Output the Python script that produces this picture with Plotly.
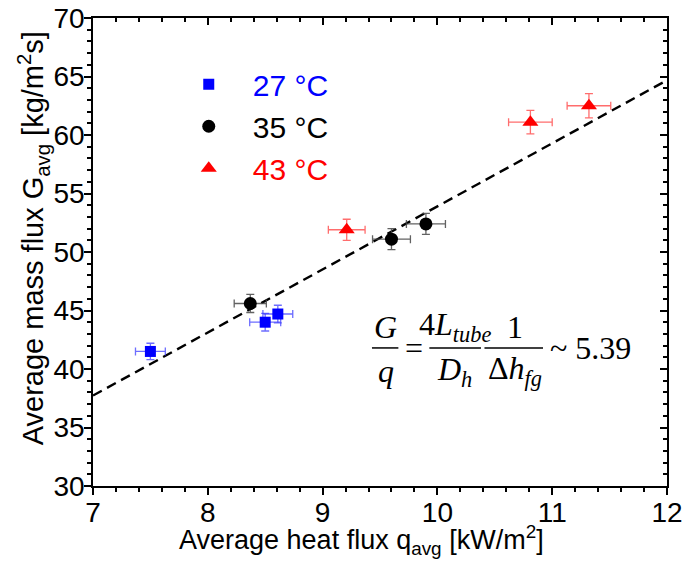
import plotly.graph_objects as go

# Measured averages for three saturation temperatures
q_27 = [7.50, 8.50, 8.61]
G_27 = [41.5, 44.0, 44.7]
q_err_27 = [0.13, 0.135, 0.13]
G_err_27 = [0.70, 0.75, 0.75]

q_35 = [8.37, 9.60, 9.90]
G_35 = [45.6, 51.1, 52.4]
q_err_35 = [0.14, 0.165, 0.17]
G_err_35 = [0.77, 0.90, 0.90]

q_43 = [9.21, 10.81, 11.32]
G_43 = [51.9, 61.1, 62.5]
q_err_43 = [0.16, 0.19, 0.19]
G_err_43 = [0.90, 1.00, 1.03]

# Ratio G/q from the correlation
slope = 5.39
q_line = [7.0, 12.0]
G_line = [slope * q for q in q_line]

X_RANGE = [7, 12]
Y_RANGE = [30, 70]

SANS = "Liberation Sans, Arial, sans-serif"
SERIF = "Liberation Serif, Times New Roman, serif"

fig = go.Figure()

fig.add_trace(go.Scatter(
    x=q_line, y=G_line, mode="lines",
    line=dict(color="black", width=2.4, dash="10px,6px"),
    showlegend=False, hoverinfo="skip",
))

series = [
    (q_27, G_27, q_err_27, G_err_27, "blue", "rgba(60,60,255,0.75)", "square", 11, "27 °C"),
    (q_35, G_35, q_err_35, G_err_35, "black", "rgba(70,70,70,0.85)", "circle", 13, "35 °C"),
    (q_43, G_43, q_err_43, G_err_43, "red", "rgba(255,60,60,0.75)", "triangle-up", 14, "43 °C"),
]
for qx, gy, qe, ge, col, ecol, sym, size, name in series:
    fig.add_trace(go.Scatter(
        x=qx, y=gy, mode="markers",
        marker=dict(symbol=sym, size=size, color=col, line=dict(width=0)),
        error_x=dict(type="data", array=qe, color=ecol, thickness=1.3, width=4),
        error_y=dict(type="data", array=ge, color=ecol, thickness=1.3, width=4),
        name=f"<span style='color:{col}'>{name}</span>",
    ))

# Empty trace that carries the top/right frame axes
fig.add_trace(go.Scatter(x=[], y=[], xaxis="x2", yaxis="y2", showlegend=False))

axis_common = dict(
    showgrid=False, zeroline=False, showline=True, automargin=False,
    linecolor="black", linewidth=1.5,
    tickcolor="black", tickwidth=1.5,
)
tick_font = dict(size=28, family=SANS, color="black")

fig.update_layout(
    width=684, height=564,
    margin=dict(l=93, r=17, t=18, b=78),
    paper_bgcolor="white", plot_bgcolor="white",
    font=dict(family=SANS, color="black"),
    xaxis=dict(
        range=X_RANGE, tick0=7, dtick=1, ticks="outside", ticklen=7,
        minor=dict(dtick=0.2, ticks="outside", ticklen=4, tickwidth=1.5, tickcolor="black"),
        tickfont=tick_font, ticklabelstandoff=-6,
        **axis_common,
    ),
    yaxis=dict(
        range=Y_RANGE, tick0=30, dtick=5, ticks="outside", ticklen=7,
        minor=dict(dtick=1, ticks="outside", ticklen=4, tickwidth=1.5, tickcolor="black"),
        tickfont=tick_font, ticklabelstandoff=-6,
        **axis_common,
    ),
    xaxis2=dict(
        range=X_RANGE, overlaying="x", side="top", anchor="y2",
        tick0=7, dtick=1, ticks="inside", ticklen=7, showticklabels=False,
        minor=dict(dtick=0.2, ticks="inside", ticklen=4, tickwidth=1.5, tickcolor="black"),
        **axis_common,
    ),
    yaxis2=dict(
        range=Y_RANGE, overlaying="y", side="right", anchor="x2",
        tick0=30, dtick=5, ticks="inside", ticklen=7, showticklabels=False,
        minor=dict(dtick=1, ticks="inside", ticklen=4, tickwidth=1.5, tickcolor="black"),
        **axis_common,
    ),
    legend=dict(
        x=0.125, y=0.914, xanchor="left", yanchor="top",
        bgcolor="rgba(0,0,0,0)", font=dict(size=30, family=SANS),
        itemwidth=78,
    ),
    showlegend=True,
)

# Axis titles
fig.add_annotation(
    x=(361 - 93) / 574, y=-0.115, xref="paper", yref="paper",
    text="Average heat flux q<sub>avg</sub> [kW/m<sup>2</sup>]",
    showarrow=False, xanchor="center", yanchor="middle",
    font=dict(size=27, family=SANS, color="black"),
)
fig.add_annotation(
    x=-0.104, y=(486 - 238) / 468, xref="paper", yref="paper",
    text="Average mass flux G<sub>avg</sub> [kg/m<sup>2</sup>s]",
    showarrow=False, textangle=-90, xanchor="center", yanchor="middle",
    font=dict(size=29, family=SANS, color="black"),
)

# Correlation written as stacked fractions
eq_font = dict(size=32, family=SERIF, color="black")


def txt(x, y, s, anchor="center"):
    fig.add_annotation(x=x, y=y, xref="x", yref="y", text=s, showarrow=False,
                       xanchor=anchor, yanchor="middle", font=eq_font)


def bar(x0, x1, y):
    fig.add_shape(type="line", xref="x", yref="y", x0=x0, x1=x1, y0=y, y1=y,
                  line=dict(color="black", width=1.5))


txt(9.55, 43.6, "<i>G</i>")
bar(9.43, 9.66, 41.8)
txt(9.55, 39.8, "<i>q</i>")
txt(9.80, 41.8, "=")
txt(10.15, 43.6, "4<i>L</i><sub><i>tube</i></sub>")
bar(9.93, 10.38, 41.8)
txt(10.15, 39.8, "<i>D</i><sub><i>h</i></sub>")
txt(10.68, 43.6, "1")
bar(10.41, 10.92, 41.8)
txt(10.68, 39.9, "Δ<i>h</i><sub><i>fg</i></sub>")
txt(10.96, 41.8, "~ 5.39", anchor="left")

fig.write_html("out.html")
